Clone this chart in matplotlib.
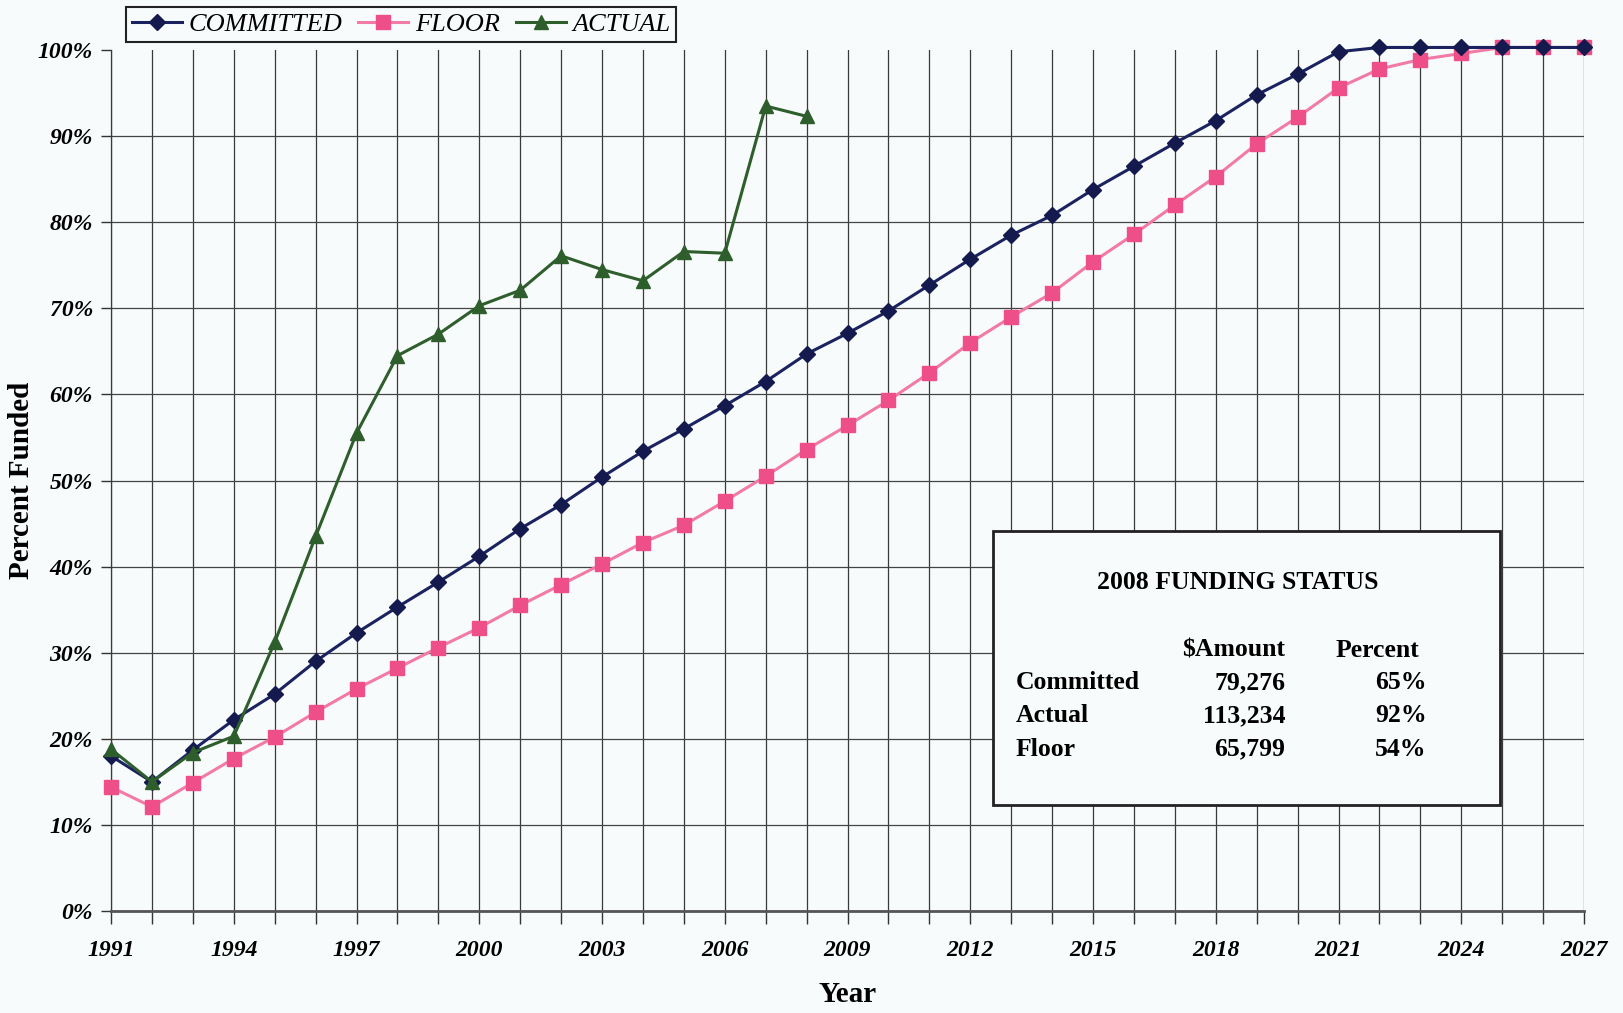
import numpy as np
import matplotlib.pyplot as plt
from matplotlib.patches import Rectangle

# data (percent funded)
years = list(range(1991, 2028))
committed = [18.0, 15.0, 18.7, 22.2, 25.2, 29.0, 32.3, 35.3, 38.2, 41.2,
             44.4, 47.2, 50.4, 53.4, 56.0, 58.7, 61.5, 64.7, 67.1, 69.7,
             72.7, 75.7, 78.5, 80.8, 83.8, 86.5, 89.2, 91.8, 94.8, 97.2,
             99.8, 100.3, 100.3, 100.3, 100.3, 100.3, 100.3]
floor = [14.4, 12.1, 14.9, 17.7, 20.2, 23.1, 25.8, 28.2, 30.6, 32.9,
         35.5, 37.9, 40.3, 42.8, 44.8, 47.6, 50.5, 53.6, 56.4, 59.3,
         62.5, 66.0, 69.0, 71.8, 75.4, 78.6, 82.0, 85.3, 89.1, 92.2,
         95.6, 97.8, 98.9, 99.6, 100.3, 100.3, 100.3]
actual_years = list(range(1991, 2009))
actual = [18.8, 15.0, 18.4, 20.3, 31.2, 43.5, 55.5, 64.5, 67.0, 70.3,
          72.1, 76.1, 74.5, 73.2, 76.6, 76.4, 93.5, 92.3]

yticks = list(range(0, 101, 10))
xticks = list(range(1991, 2028, 3))

status_rows = ['Committed', 'Actual', 'Floor']
status_amount = ['79,276', '113,234', '65,799']
status_pct = ['65%', '92%', '54%']

serif = ['Liberation Serif', 'DejaVu Serif']
bg = '#f8fbfb'

fig = plt.figure(figsize=(16.23, 10.13), dpi=100, facecolor=bg)
ax = fig.add_axes([0.0684, 0.1007, 0.9076, 0.8499], facecolor=bg)

ax.plot(years, committed, color='#1b2260', lw=2.2, marker='D', ms=8,
        mfc='#141a4e', mec='#141a4e', label='COMMITTED', zorder=4, clip_on=False)
ax.plot(years, floor, color='#f27aa6', lw=2.2, marker='s', ms=10,
        mfc='#ee4f88', mec='#ee4f88', label='FLOOR', zorder=3, clip_on=False)
ax.plot(actual_years, actual, color='#2e5e2c', lw=2.2, marker='^', ms=10,
        mfc='#2e5e2c', mec='#2e5e2c', label='ACTUAL', zorder=5, clip_on=False)

ax.set_xlim(1991, 2027)
ax.set_ylim(0, 100)
ax.set_xticks(xticks)
ax.set_xticks(years, minor=True)
ax.set_yticks(yticks)
ax.set_yticklabels(['%d%%' % v for v in yticks])
ax.grid(True, which='both', axis='x', color='#3a3a3a', lw=0.9)
ax.grid(True, which='major', axis='y', color='#444444', lw=0.9)
ax.yaxis.get_gridlines()[-1].set_visible(False)
ax.set_axisbelow(True)

for s in ['top', 'right']:
    ax.spines[s].set_visible(False)
ax.spines['left'].set_color('#3a3a3a')
ax.spines['left'].set_linewidth(0.9)
ax.spines['bottom'].set_color('#555555')
ax.spines['bottom'].set_linewidth(2.0)

ax.tick_params(axis='x', which='both', length=9, width=1, color='#333333',
               direction='out', pad=12)
ax.tick_params(axis='y', length=7, width=1, color='#333333', pad=6)
for lab in ax.get_xticklabels() + ax.get_yticklabels():
    lab.set_family(serif)
    lab.set_fontweight('bold')
    lab.set_fontstyle('italic')
    lab.set_fontsize(17)

ax.set_xlabel('Year', family=serif, fontweight='bold', fontsize=21, labelpad=14)
ax.set_ylabel('Percent Funded', family=serif, fontweight='bold', fontsize=21, labelpad=2)

leg = fig.legend(loc='upper left', bbox_to_anchor=(0.0776, 0.993), ncol=3,
                 frameon=True, fancybox=False, edgecolor='#222222',
                 facecolor=bg, framealpha=1, borderaxespad=0, borderpad=0.22,
                 handlelength=1.9, handletextpad=0.25, columnspacing=0.6,
                 prop={'family': serif, 'style': 'italic', 'size': 19})
leg.get_frame().set_linewidth(1.5)

# funding status box
ax.add_patch(Rectangle((0.599, 0.123), 0.344, 0.318, transform=ax.transAxes,
                       facecolor=bg, edgecolor='#222222', lw=2.0, zorder=6))
tkw = dict(transform=ax.transAxes, family=serif, fontweight='bold', fontsize=18.5,
           zorder=7, va='center')
ax.text(0.765, 0.381, '2008 FUNDING STATUS', ha='center', **tkw)
ax.text(0.797, 0.303, '$Amount', ha='right', **tkw)
ax.text(0.888, 0.303, 'Percent', ha='right', **tkw)
row_y = [0.265, 0.2265, 0.188]
for y, name, amt, pct in zip(row_y, status_rows, status_amount, status_pct):
    ax.text(0.614, y, name, ha='left', **tkw)
    ax.text(0.797, y, amt, ha='right', **tkw)
    ax.text(0.893, y, pct, ha='right', **tkw)

fig.savefig('out.png', dpi=100, facecolor=bg)
